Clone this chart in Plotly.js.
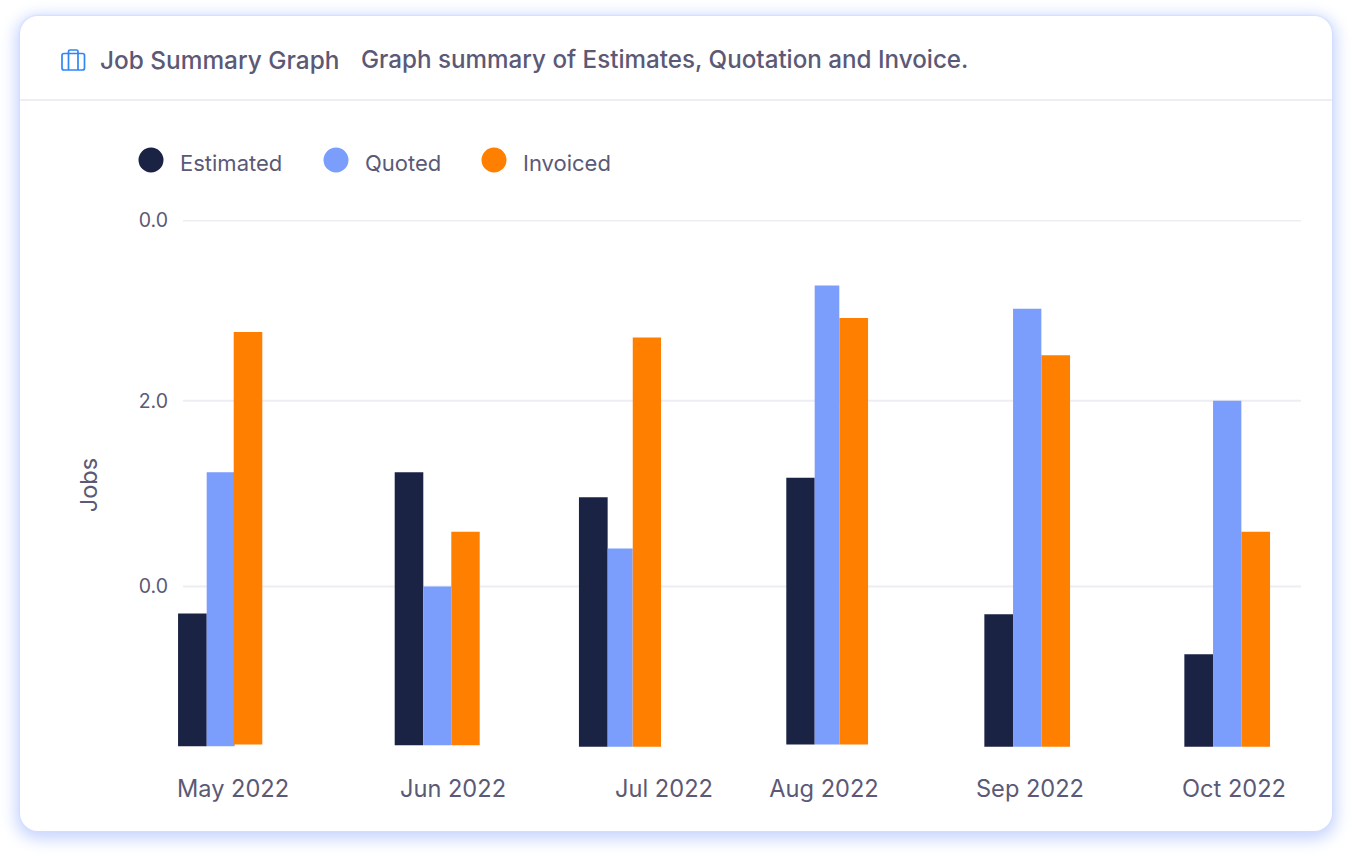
<!DOCTYPE html>
<html>
<head>
<meta charset="utf-8">
<script src="https://cdn.plot.ly/plotly-3.0.1.min.js"></script>
<style>
html,body{margin:0;padding:0;background:#fff;width:1352px;height:856px;overflow:hidden}
#card{position:absolute;left:20px;top:16px;width:1312px;height:815px;background:#fff;border-radius:18px;box-shadow:0 0 2px 1px #d3deff,0 4px 16px 4px #c6d4ff}
#divider{position:absolute;left:20px;top:99px;width:1312px;height:2px;background:#ededf4}
#icon{position:absolute;left:61px;top:49px}
#chart{position:absolute;left:0;top:0;width:1352px;height:856px}
</style>
</head>
<body>
<div id="card"></div>
<div id="divider"></div>
<svg id="icon" width="25" height="23" viewBox="0 0 25 23" fill="none" stroke="#2f86f5" stroke-width="1.7">
  <rect x="1" y="4.5" width="22.5" height="16.5" rx="2"/>
  <path d="M7.5 4.5V2.4Q7.5 1 9 1H15.5Q17 1 17 2.4V4.5"/>
  <path d="M7.5 4.5V21M17 4.5V21"/>
</svg>
<div id="chart"></div>
<script>
var seriesNames = ["Estimated", "Quoted", "Invoiced"];
var seriesColors = ["#1b2345", "#7b9dfb", "#ff8000"];
var monthLabels = ["May 2022", "Jun 2022", "Jul 2022", "Aug 2022", "Sep 2022", "Oct 2022"];
var monthTicks = [233, 453, 664, 824, 1030, 1234];

var estimatedValues = [-0.29, 1.23, 0.96, 1.17, -0.30, -0.73];
var quotedValues = [1.23, 0.0, 0.41, 3.24, 2.99, 2.00];
var invoicedValues = [2.74, 0.59, 2.68, 2.89, 2.49, 0.59];

var estimatedBase = [-1.72, -1.71, -1.725, -1.70, -1.725, -1.725];
var quotedBase = [-1.72, -1.71, -1.725, -1.70, -1.725, -1.725];
var invoicedBase = [-1.70, -1.71, -1.725, -1.70, -1.725, -1.725];

var estimatedPos = [192.4, 409, 593.3, 800.5, 998.7, 1198.7];
var quotedPos = [220.7, 437.3, 620.2, 827, 1027.2, 1227.2];
var invoicedPos = [248, 465.5, 646.9, 853.7, 1055.7, 1255.7];
var estimatedWidth = [28.7, 28.6, 28.7, 28.4, 28.7, 28.7];
var quotedWidth = [28, 28, 25, 24.6, 28.3, 28.3];
var invoicedWidth = [28.6, 28.4, 28.3, 28.7, 28.7, 28.7];

var yTickVals = [3.94, 2, 0];
var yTickText = ["0.0", "2.0", "0.0"];
var gridStart = 183;

var headerTitle = "Job Summary Graph";
var headerSubtitle = "Graph summary of Estimates, Quotation and Invoice.";
var axisTitle = "Jobs";

var legendDotCenters = [151, 336, 494];
var legendTextLeft = [178, 363, 521];

var textColor = "#5b5976";
var W = 1352, H = 856, mL = 178, mR = 51, mT = 220, mB = 106;

function py(p) { return 1 - (p - mT) / (H - mT - mB); }
function px(p) { return (p - mL) / (W - mL - mR); }

var traces = [
  {x: estimatedPos, y: estimatedValues, base: estimatedBase, width: estimatedWidth},
  {x: quotedPos, y: quotedValues, base: quotedBase, width: quotedWidth},
  {x: invoicedPos, y: invoicedValues, base: invoicedBase, width: invoicedWidth}
].map(function (t, i) {
  return {
    type: "bar", name: seriesNames[i], x: t.x,
    y: t.y.map(function (v, k) { return v - t.base[k]; }),
    base: t.base, width: t.width, cliponaxis: false, showlegend: false,
    marker: {color: seriesColors[i], line: {width: 0}}
  };
});

var shapes = legendDotCenters.map(function (c, i) {
  return {type: "circle", xref: "paper", yref: "paper",
    x0: px(c - 12.5), x1: px(c + 12.5), y0: py(172.5), y1: py(147.5),
    fillcolor: seriesColors[i], line: {width: 0}};
}).concat(yTickVals.map(function (v) {
  return {type: "line", xref: "x", yref: "y", layer: "below",
    x0: gridStart, x1: W - mR, y0: v, y1: v, line: {color: "#ededf4", width: 2}};
}));

var annotations = legendTextLeft.map(function (l, i) {
  return {xref: "paper", yref: "paper", x: px(l), y: py(163.4), xanchor: "left", yanchor: "middle",
    showarrow: false, text: seriesNames[i], font: {family: "Inter", size: 22, color: textColor}};
}).concat([
  {xref: "paper", yref: "paper", x: px(98), y: py(59.6), xanchor: "left", yanchor: "middle",
    showarrow: false, text: headerTitle, font: {family: "Inter", size: 24.4, weight: 500, color: textColor}},
  {xref: "paper", yref: "paper", x: px(359), y: py(59.6), xanchor: "left", yanchor: "middle",
    showarrow: false, text: headerSubtitle, font: {family: "Inter", size: 24.2, weight: 500, color: textColor}}
]);

var layout = {
  width: W, height: H, autosize: false,
  paper_bgcolor: "rgba(0,0,0,0)", plot_bgcolor: "rgba(0,0,0,0)",
  margin: {l: mL, r: mR, t: mT, b: mB, pad: 0},
  barmode: "overlay", showlegend: false, hovermode: false,
  font: {family: "Inter", color: textColor},
  xaxis: {
    range: [mL, W - mR], tickmode: "array", tickvals: monthTicks, ticktext: monthLabels,
    showgrid: false, zeroline: false, showline: false, ticks: "", ticklabelstandoff: 22,
    tickfont: {family: "Inter", size: 23.6, color: textColor}
  },
  yaxis: {
    range: [-1.76, 3.945], tickmode: "array", tickvals: yTickVals, ticktext: yTickText,
    showgrid: false, zeroline: false, showline: false,
    ticks: "", ticklabelstandoff: 9,
    tickfont: {family: "Inter", size: 19.5, color: textColor},
    title: {text: axisTitle, standoff: 34, font: {family: "Inter", size: 23.5, color: textColor}}
  },
  shapes: shapes,
  annotations: annotations
};

Plotly.newPlot("chart", traces, layout, {displayModeBar: false, staticPlot: true});
</script>
</body>
</html>
